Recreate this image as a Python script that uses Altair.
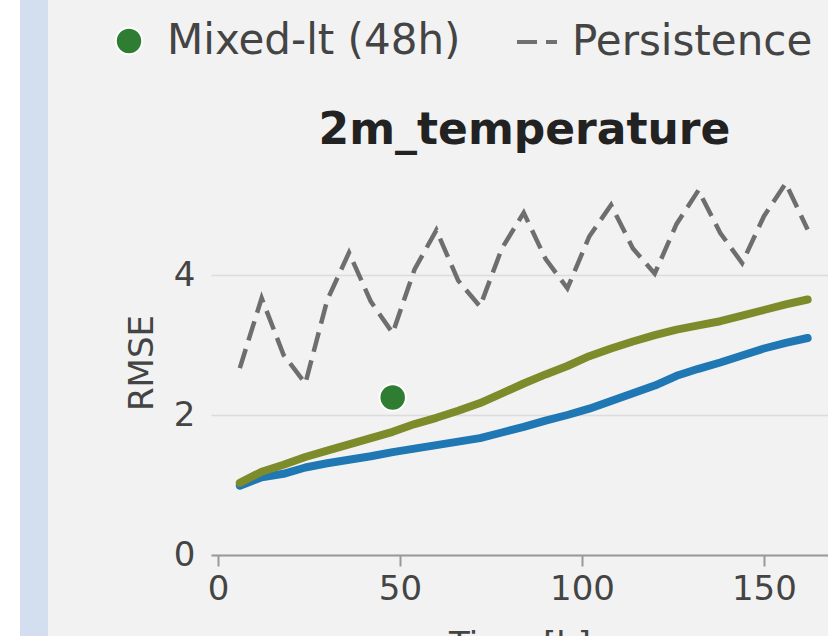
import altair as alt
import pandas as pd

# ---- data ----
hours = [6, 12, 18, 24, 30, 36, 42, 48, 54, 60, 66, 72, 78, 84, 90, 96,
         102, 108, 114, 120, 126, 132, 138, 144, 150, 156, 162]
model_blue = [0.99, 1.11, 1.16, 1.25, 1.31, 1.36, 1.41, 1.47, 1.52, 1.57, 1.62, 1.67,
              1.75, 1.83, 1.92, 2.00, 2.09, 2.20, 2.31, 2.42, 2.56, 2.66, 2.75, 2.85,
              2.95, 3.03, 3.10]
model_olive = [1.03, 1.19, 1.29, 1.40, 1.49, 1.58, 1.67, 1.76, 1.87, 1.96, 2.06, 2.17,
               2.31, 2.45, 2.58, 2.70, 2.84, 2.95, 3.05, 3.14, 3.22, 3.28, 3.34, 3.42,
               3.50, 3.58, 3.65]
persistence = [2.67, 3.67, 2.86, 2.45, 3.64, 4.32, 3.62, 3.17, 4.08, 4.64, 3.92, 3.55,
               4.38, 4.89, 4.23, 3.81, 4.55, 5.00, 4.38, 4.02, 4.73, 5.21, 4.60, 4.17,
               4.84, 5.31, 4.65]
mixed_hours = [48]
mixed_rmse = [2.25]

x_ticks = [0, 50, 100, 150]
y_ticks = [0, 2, 4]

df = pd.DataFrame({
    "t": hours,
    "blue": model_blue,
    "olive": model_olive,
    "persistence": persistence,
    "p": ["Persistence"] * len(hours),
})
pt = pd.DataFrame({"t": mixed_hours, "rmse": mixed_rmse, "m": ["Mixed-lt (48h)"] * len(mixed_hours)})

FONT = "DejaVu Sans"
LBL = "#444444"

x_scale = alt.Scale(domain=[-1.92, 167.6], nice=False, zero=False)
y_scale = alt.Scale(domain=[0, 5.5], nice=False)

x_axis = alt.Axis(title="Time [h]", values=x_ticks, grid=False, labelFontSize=34,
                  titleFontSize=34, titleFontWeight="normal", labelColor=LBL, titleColor=LBL,
                  domainColor="#999999", domainWidth=2, tickColor="#999999", tickWidth=2,
                  tickSize=11, labelPadding=6, titlePadding=22)
y_axis = alt.Axis(title="RMSE", values=y_ticks, grid=True, gridColor="#dcdcdc", gridWidth=1.5,
                  domain=False, ticks=False, labelFontSize=34, titleFontSize=34,
                  titleFontWeight="normal", labelColor=LBL, titleColor=LBL,
                  labelPadding=16, titlePadding=14)

x_enc = alt.X("t:Q", scale=x_scale, axis=x_axis)

# left page strip (decoration)
strip_white = alt.Chart(alt.Data(values=[{}])).mark_rect(color="white").encode(
    x=alt.value(-211), x2=alt.value(-191), y=alt.value(-170), y2=alt.value(466))
strip_blue = alt.Chart(alt.Data(values=[{}])).mark_rect(color="#d3dfef").encode(
    x=alt.value(-191), x2=alt.value(-163), y=alt.value(-170), y2=alt.value(466))

persist_line = alt.Chart(df).mark_line(color="#6e6e6e", strokeWidth=4.5).encode(
    x=x_enc,
    y=alt.Y("persistence:Q", scale=y_scale, axis=y_axis),
    strokeDash=alt.StrokeDash(
        "p:N",
        scale=alt.Scale(domain=["Persistence"], range=[[20, 9]]),
        legend=alt.Legend(title=None, orient="none", legendX=304, legendY=-150,
                          symbolType="stroke", symbolSize=1600, symbolStrokeWidth=4,
                          symbolStrokeColor="#707070", symbolDash=[20, 8],
                          labelFontSize=42, labelColor=LBL, labelOffset=13,
                          labelLimit=600, padding=0),
    ),
)

blue_line = alt.Chart(df).mark_line(color="#1f77b4", strokeWidth=8, strokeCap="round",
                                    strokeJoin="round").encode(
    x=x_enc, y=alt.Y("blue:Q", scale=y_scale, axis=y_axis))

olive_line = alt.Chart(df).mark_line(color="#7d8b2a", strokeWidth=8, strokeCap="round",
                                     strokeJoin="round").encode(
    x=x_enc, y=alt.Y("olive:Q", scale=y_scale, axis=y_axis))

mixed_pt = alt.Chart(pt).mark_point(filled=True, size=700, opacity=1, stroke="white",
                                    strokeWidth=2).encode(
    x=x_enc,
    y=alt.Y("rmse:Q", scale=y_scale, axis=y_axis),
    color=alt.Color(
        "m:N",
        scale=alt.Scale(domain=["Mixed-lt (48h)"], range=["#2e7d32"]),
        legend=alt.Legend(title=None, orient="none", legendX=-103, legendY=-150,
                          symbolType="circle", symbolSize=700, symbolStrokeColor="white",
                          symbolStrokeWidth=2, symbolOpacity=1,
                          labelFontSize=42, labelColor=LBL, labelOffset=17,
                          labelLimit=600, padding=0),
    ),
)

chart = alt.layer(strip_white, strip_blue, persist_line, blue_line, olive_line, mixed_pt).properties(
    width=617,
    height=385,
    title=alt.TitleParams("2m_temperature", fontSize=44, fontWeight="bold", color="#222222",
                          anchor="middle", frame="group", baseline="alphabetic",
                          dx=5, dy=188, offset=0),
    autosize=alt.AutoSizeParams(type="none"),
    padding={"left": 211, "top": 170, "right": 0, "bottom": 81},
    background="#f2f2f2",
).configure(font=FONT).configure_view(stroke=None).resolve_legend(color="independent", strokeDash="independent")

chart.save("out.html", embed_options={"renderer": "svg", "actions": False})
